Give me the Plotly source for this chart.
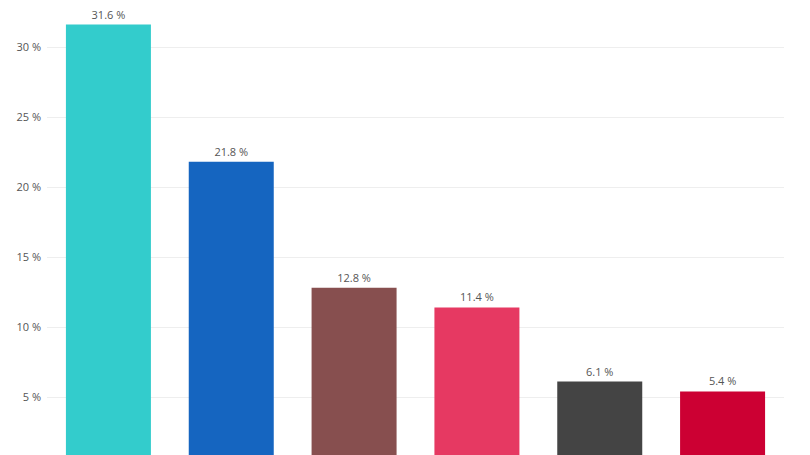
import plotly.graph_objects as go

categories = ["A", "B", "C", "D", "E", "F"]
values = [31.6, 21.8, 12.8, 11.4, 6.1, 5.4]
colors = ["#33CCCC", "#1565C0", "#874F4F", "#E63962", "#444444", "#CC0033"]
tick_vals = [5, 10, 15, 20, 25, 30]
tick_text = ["5 %", "10 %", "15 %", "20 %", "25 %", "30 %"]

fig = go.Figure(go.Bar(
    x=categories,
    y=values,
    marker=dict(color=colors, line=dict(width=0)),
    text=[f"{v:.1f} %" for v in values],
    textposition="outside",
    textfont=dict(family="Open Sans, sans-serif", size=11, color="#555555"),
    cliponaxis=False,
))

fig.update_layout(
    width=810, height=455,
    margin=dict(l=39, r=34, t=0, b=0),
    paper_bgcolor="white",
    plot_bgcolor="white",
    bargap=0.308,
    showlegend=False,
    font=dict(family="Open Sans, sans-serif", size=11, color="#555555"),
    xaxis=dict(showticklabels=False, showgrid=False, zeroline=False, showline=False),
    yaxis=dict(
        range=[30 + 39 / 14 - 455 / 14, 30 + 39 / 14],
        tickvals=tick_vals,
        ticktext=tick_text,
        showgrid=True,
        gridcolor="#EEEEEE",
        gridwidth=1,
        zeroline=False,
        showline=False,
        ticks="",
        ticklabelstandoff=5,
        tickfont=dict(family="Open Sans, sans-serif", size=11, color="#555555"),
    ),
)

fig.write_html("out.html")
